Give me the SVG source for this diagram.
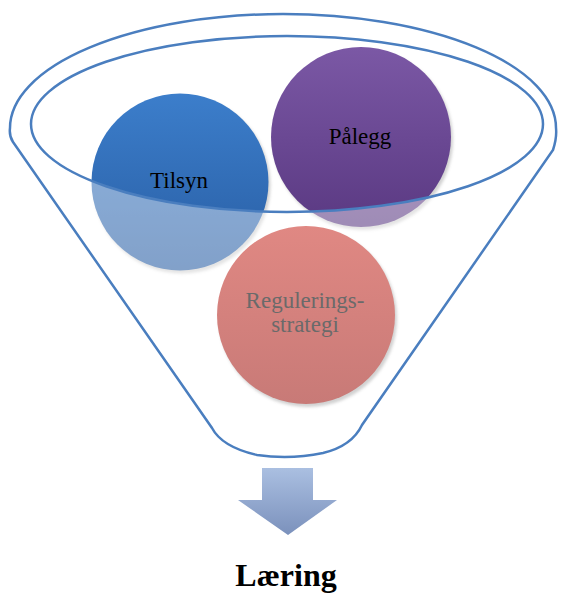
<svg xmlns="http://www.w3.org/2000/svg" width="561" height="595" viewBox="0 0 561 595">
  <defs>
    <style>
      .lbl { font-family: "Liberation Serif", "Times New Roman", serif; font-size: 23px; text-anchor: middle; fill: #000; }
      .rim { fill: none; stroke: #4a7ebf; stroke-width: 2.5; }
      .shadow { fill: #9a9a9a; opacity: 0.45; filter: url(#blur); }
    </style>
    <filter id="blur" x="-10%" y="-10%" width="120%" height="120%">
      <feGaussianBlur stdDeviation="1.5"/>
    </filter>
    <linearGradient id="gBlue" x1="0" y1="0" x2="0" y2="1">
      <stop offset="0" stop-color="#3c7ecb"/>
      <stop offset="1" stop-color="#285da3"/>
    </linearGradient>
    <linearGradient id="gPurple" x1="0" y1="0" x2="0" y2="1">
      <stop offset="0" stop-color="#7b58a5"/>
      <stop offset="1" stop-color="#5a3982"/>
    </linearGradient>
    <linearGradient id="gRed" x1="0" y1="0" x2="0" y2="1">
      <stop offset="0" stop-color="#e08883"/>
      <stop offset="1" stop-color="#c87a77"/>
    </linearGradient>
    <linearGradient id="gArrow" x1="0" y1="0" x2="0" y2="1">
      <stop offset="0" stop-color="#aabfe1"/>
      <stop offset="1" stop-color="#7b91bc"/>
    </linearGradient>
  </defs>

  <g id="node-tilsyn">
    <circle class="shadow" cx="182" cy="185" r="88.5"/>
    <circle cx="180" cy="182" r="88.5" fill="url(#gBlue)"/>
    <text class="lbl" x="179" y="188">Tilsyn</text>
  </g>

  <g id="node-palegg">
    <circle class="shadow" cx="363" cy="140" r="90"/>
    <circle cx="361" cy="137" r="90" fill="url(#gPurple)"/>
    <text class="lbl" x="360" y="144">Pålegg</text>
  </g>

  <!-- translucent front of the funnel body -->
  <path id="funnel-front" fill="#ffffff" fill-opacity="0.42" fill-rule="evenodd"
        d="M 13 142 Q 9 136 10 128 A 273 114 0 0 1 556 128 Q 557 138 553 150 L 362 425 Q 352 446 323 453 Q 290 460 257 455 Q 222 447 212 428 Z
           M 31 124 A 256 88 0 1 0 543 124 A 256 88 0 1 0 31 124 Z"/>

  <g id="node-reguleringsstrategi">
    <circle class="shadow" cx="308" cy="318" r="89"/>
    <circle cx="306" cy="315" r="89" fill="url(#gRed)"/>
    <text class="lbl" x="305" y="308" style="fill:#6a6a6a">Regulerings-</text>
    <text class="lbl" x="305" y="332" style="fill:#6a6a6a">strategi</text>
  </g>

  <g id="node-funnel">
    <path class="rim" d="M 13 142 Q 9 136 10 128 A 273 114 0 0 1 556 128 Q 557 138 553 150 L 362 425 Q 352 446 323 453 Q 290 460 257 455 Q 222 447 212 428 Z"/>
    <ellipse class="rim" cx="287" cy="124" rx="256" ry="88"/>
  </g>

  <g id="connectors">
    <path d="M 262 468 L 313 468 L 313 500 L 337 500 L 288 535 L 238 500 L 262 500 Z" fill="url(#gArrow)"/>
  </g>

  <g id="node-laering">
    <text x="286" y="586" font-family="'Liberation Serif', 'Times New Roman', serif" font-size="32" font-weight="bold" text-anchor="middle" fill="#000">Læring</text>
  </g>
</svg>
